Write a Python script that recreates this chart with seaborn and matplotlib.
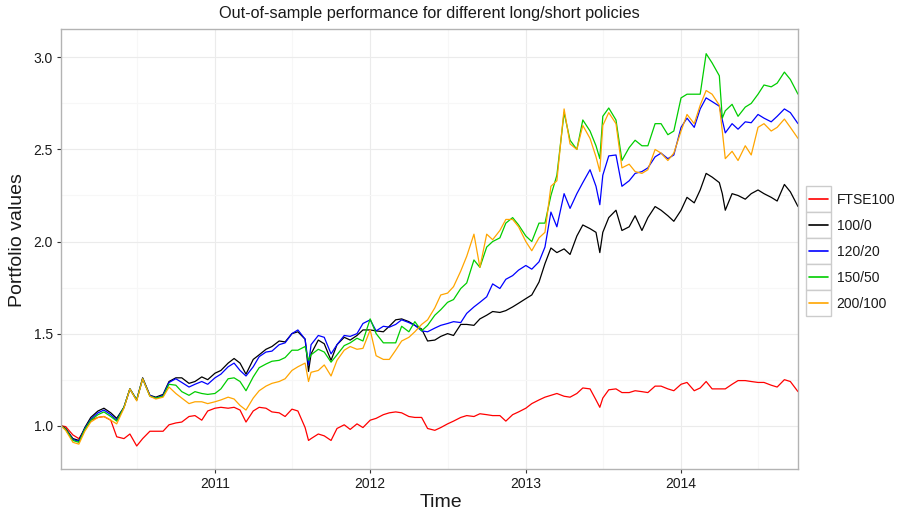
import pandas as pd
import matplotlib
matplotlib.use("Agg")
import matplotlib.pyplot as plt
import matplotlib.dates as mdates
from matplotlib.patches import Rectangle
from matplotlib.lines import Line2D
from matplotlib.legend_handler import HandlerBase
from matplotlib.ticker import FixedLocator, FormatStrFormatter
import seaborn as sns

# ---------------- data ----------------
dates = [
    "2010-01-04", "2010-01-15", "2010-02-01", "2010-02-15", "2010-03-01", "2010-03-15",
    "2010-04-01", "2010-04-15", "2010-05-01", "2010-05-15", "2010-06-01", "2010-06-15",
    "2010-07-01", "2010-07-15", "2010-08-01", "2010-08-15", "2010-09-01", "2010-09-15",
    "2010-10-01", "2010-10-15", "2010-11-01", "2010-11-15", "2010-12-01", "2010-12-15",
    "2011-01-01", "2011-01-15", "2011-02-01", "2011-02-15", "2011-03-01", "2011-03-15",
    "2011-04-01", "2011-04-15", "2011-05-01", "2011-05-15", "2011-06-01", "2011-06-15",
    "2011-07-01", "2011-07-15", "2011-08-01", "2011-08-09", "2011-08-15", "2011-09-01",
    "2011-09-15", "2011-10-01", "2011-10-15", "2011-11-01", "2011-11-15", "2011-12-01",
    "2011-12-15",
    "2012-01-01", "2012-01-15", "2012-02-01", "2012-02-15", "2012-03-01", "2012-03-15",
    "2012-04-01", "2012-04-15", "2012-05-01", "2012-05-15", "2012-06-01", "2012-06-15",
    "2012-07-01", "2012-07-15", "2012-08-01", "2012-08-15", "2012-09-01", "2012-09-15",
    "2012-10-01", "2012-10-15", "2012-11-01", "2012-11-15", "2012-12-01", "2012-12-15",
    "2013-01-01", "2013-01-15", "2013-02-01", "2013-02-15", "2013-03-01", "2013-03-15",
    "2013-04-01", "2013-04-15", "2013-05-01", "2013-05-15", "2013-06-01", "2013-06-15",
    "2013-06-24", "2013-07-01", "2013-07-15", "2013-08-01", "2013-08-15", "2013-09-01",
    "2013-09-15", "2013-10-01", "2013-10-15", "2013-11-01", "2013-11-15", "2013-12-01",
    "2013-12-15",
    "2014-01-01", "2014-01-15", "2014-02-01", "2014-02-15", "2014-03-01", "2014-03-15",
    "2014-04-01", "2014-04-08", "2014-04-15", "2014-05-01", "2014-05-15", "2014-06-01",
    "2014-06-15", "2014-07-01", "2014-07-15", "2014-08-01", "2014-08-15", "2014-09-01",
    "2014-09-15", "2014-10-03",
]

ftse100 = [
    1.00, 0.995, 0.95, 0.93, 0.98, 1.03, 1.045, 1.05, 1.03, 0.94, 0.93, 0.955,
    0.89, 0.93, 0.97, 0.97, 0.97, 1.005, 1.015, 1.02, 1.05, 1.055, 1.03, 1.08,
    1.095, 1.10, 1.095, 1.10, 1.085, 1.02, 1.08, 1.10, 1.095, 1.075, 1.07, 1.05,
    1.09, 1.08, 0.99, 0.92, 0.93, 0.955, 0.945, 0.92, 0.985, 1.005, 0.98, 1.01, 0.99,
    1.03, 1.04, 1.06, 1.07, 1.075, 1.07, 1.05, 1.045, 1.045, 0.985, 0.975, 0.99,
    1.01, 1.025, 1.045, 1.055, 1.05, 1.065, 1.06, 1.055, 1.055, 1.025, 1.06, 1.075,
    1.095, 1.12, 1.14, 1.155, 1.165, 1.175, 1.16, 1.155, 1.175, 1.205, 1.20, 1.14,
    1.10, 1.15, 1.195, 1.20, 1.18, 1.18, 1.19, 1.185, 1.18, 1.215, 1.215, 1.20, 1.19,
    1.225, 1.235, 1.19, 1.205, 1.24, 1.20, 1.20, 1.20, 1.20, 1.225, 1.245, 1.245,
    1.24, 1.235, 1.235, 1.22, 1.21, 1.25, 1.24, 1.185,
]

p100_0 = [
    1.00, 0.985, 0.93, 0.92, 0.99, 1.045, 1.08, 1.095, 1.07, 1.04, 1.10, 1.20,
    1.14, 1.26, 1.165, 1.155, 1.17, 1.24, 1.26, 1.26, 1.23, 1.24, 1.265, 1.25,
    1.285, 1.30, 1.34, 1.365, 1.34, 1.28, 1.36, 1.385, 1.415, 1.43, 1.46, 1.455,
    1.50, 1.51, 1.47, 1.295, 1.39, 1.465, 1.445, 1.355, 1.44, 1.48, 1.465, 1.49, 1.52,
    1.52, 1.515, 1.51, 1.54, 1.575, 1.58, 1.565, 1.545, 1.525, 1.46, 1.465, 1.485,
    1.50, 1.49, 1.55, 1.55, 1.545, 1.58, 1.60, 1.62, 1.615, 1.625, 1.645, 1.665,
    1.69, 1.71, 1.78, 1.88, 1.965, 1.94, 1.96, 1.93, 2.03, 2.09, 2.07, 2.05,
    1.94, 2.05, 2.13, 2.17, 2.06, 2.08, 2.14, 2.06, 2.13, 2.19, 2.17, 2.14, 2.11,
    2.17, 2.24, 2.21, 2.28, 2.37, 2.35, 2.32, 2.26, 2.17, 2.26, 2.25, 2.23,
    2.26, 2.28, 2.26, 2.24, 2.22, 2.31, 2.27, 2.19,
]

p120_20 = [
    1.00, 0.98, 0.925, 0.915, 0.985, 1.035, 1.07, 1.085, 1.06, 1.03, 1.10, 1.20,
    1.14, 1.255, 1.165, 1.15, 1.165, 1.235, 1.255, 1.235, 1.21, 1.225, 1.24, 1.225,
    1.26, 1.28, 1.32, 1.34, 1.30, 1.27, 1.32, 1.375, 1.40, 1.405, 1.44, 1.45,
    1.50, 1.52, 1.47, 1.33, 1.44, 1.49, 1.48, 1.39, 1.44, 1.49, 1.485, 1.50, 1.555,
    1.575, 1.515, 1.54, 1.535, 1.55, 1.575, 1.56, 1.545, 1.515, 1.51, 1.53, 1.545,
    1.555, 1.565, 1.56, 1.61, 1.645, 1.67, 1.70, 1.77, 1.745, 1.795, 1.815, 1.845,
    1.87, 1.85, 1.89, 1.97, 2.16, 2.08, 2.26, 2.18, 2.26, 2.32, 2.39, 2.30,
    2.20, 2.36, 2.465, 2.47, 2.30, 2.33, 2.37, 2.38, 2.40, 2.46, 2.48, 2.45, 2.47,
    2.62, 2.67, 2.62, 2.72, 2.78, 2.76, 2.735, 2.66, 2.59, 2.64, 2.61, 2.65,
    2.645, 2.69, 2.67, 2.65, 2.68, 2.72, 2.70, 2.64,
]

p150_50 = [
    1.00, 0.98, 0.92, 0.91, 0.98, 1.03, 1.06, 1.075, 1.05, 1.025, 1.10, 1.20,
    1.14, 1.255, 1.16, 1.15, 1.16, 1.225, 1.22, 1.185, 1.165, 1.185, 1.175, 1.17,
    1.175, 1.20, 1.255, 1.26, 1.24, 1.19, 1.265, 1.315, 1.335, 1.35, 1.355, 1.37,
    1.41, 1.41, 1.43, 1.355, 1.385, 1.415, 1.40, 1.345, 1.385, 1.435, 1.45, 1.475, 1.46,
    1.58, 1.50, 1.45, 1.45, 1.45, 1.54, 1.51, 1.565, 1.515, 1.545, 1.60, 1.63,
    1.67, 1.685, 1.745, 1.775, 1.90, 1.86, 1.97, 2.00, 2.02, 2.10, 2.13, 2.09,
    2.03, 2.00, 2.10, 2.10, 2.25, 2.36, 2.70, 2.55, 2.50, 2.66, 2.60, 2.52,
    2.45, 2.68, 2.725, 2.66, 2.44, 2.51, 2.55, 2.52, 2.52, 2.64, 2.64, 2.58, 2.60,
    2.78, 2.80, 2.80, 2.80, 3.02, 2.97, 2.90, 2.67, 2.71, 2.745, 2.68, 2.73,
    2.75, 2.80, 2.85, 2.84, 2.86, 2.92, 2.88, 2.80,
]

p200_100 = [
    1.00, 0.975, 0.91, 0.90, 0.97, 1.02, 1.045, 1.05, 1.03, 1.01, 1.095, 1.20,
    1.135, 1.255, 1.16, 1.145, 1.155, 1.21, 1.175, 1.15, 1.12, 1.13, 1.13, 1.12,
    1.13, 1.14, 1.155, 1.145, 1.11, 1.085, 1.15, 1.19, 1.215, 1.23, 1.24, 1.255,
    1.30, 1.32, 1.34, 1.24, 1.29, 1.30, 1.33, 1.27, 1.355, 1.41, 1.43, 1.415, 1.42,
    1.52, 1.38, 1.36, 1.36, 1.41, 1.46, 1.48, 1.51, 1.55, 1.575, 1.64, 1.71,
    1.72, 1.755, 1.84, 1.92, 2.04, 1.86, 2.04, 2.01, 2.06, 2.12, 2.12, 2.08,
    2.00, 1.95, 2.02, 2.05, 2.30, 2.33, 2.72, 2.53, 2.50, 2.63, 2.56, 2.46,
    2.38, 2.63, 2.70, 2.64, 2.40, 2.42, 2.38, 2.37, 2.39, 2.50, 2.48, 2.44, 2.48,
    2.60, 2.69, 2.64, 2.74, 2.82, 2.80, 2.74, 2.60, 2.45, 2.49, 2.44, 2.52,
    2.47, 2.62, 2.64, 2.60, 2.62, 2.665, 2.62, 2.56,
]

policies = ["FTSE100", "100/0", "120/20", "150/50", "200/100"]
colors = ["#FF0000", "#000000", "#0000FF", "#00CD00", "#FFA500"]
year_ticks = ["2011", "2012", "2013", "2014"]
minor_x = ["2010-07-01", "2011-07-01", "2012-07-01", "2013-07-01", "2014-07-01"]
y_ticks = [1.0, 1.5, 2.0, 2.5, 3.0]
y_minor = [0.75, 1.25, 1.75, 2.25, 2.75]

# ---------------- build long table ----------------
wide = pd.DataFrame({
    "Time": pd.to_datetime(dates),
    "FTSE100": ftse100,
    "100/0": p100_0,
    "120/20": p120_20,
    "150/50": p150_50,
    "200/100": p200_100,
})
df = wide.melt(id_vars="Time", var_name="policy", value_name="value")

# ---------------- style ----------------
sns.set_theme(style="white")
plt.rcParams["font.family"] = ["Liberation Sans", "DejaVu Sans"]

W, H = 899, 513
fig = plt.figure(figsize=(W / 100, H / 100), dpi=100)
L, R, T, B = 61, 798, 29, 469
ax = fig.add_axes([L / W, 1 - B / H, (R - L) / W, (B - T) / H])

sns.lineplot(data=df, x="Time", y="value", hue="policy", hue_order=policies,
             palette=dict(zip(policies, colors)), estimator=None, linewidth=0.9,
             ax=ax, legend=True)

ax.set_xlim(wide["Time"].iloc[0], wide["Time"].iloc[-1])
ax.set_ylim(0.765, 3.154)

ax.xaxis.set_major_locator(FixedLocator(mdates.date2num(pd.to_datetime([y + "-01-01" for y in year_ticks]))))
ax.xaxis.set_minor_locator(FixedLocator(mdates.date2num(pd.to_datetime(minor_x))))
ax.xaxis.set_major_formatter(mdates.DateFormatter("%Y"))
ax.yaxis.set_major_locator(FixedLocator(y_ticks))
ax.yaxis.set_minor_locator(FixedLocator(y_minor))
ax.yaxis.set_major_formatter(FormatStrFormatter("%.1f"))

ax.grid(which="major", color="#EBEBEB", linewidth=0.8)
ax.grid(which="minor", color="#F7F7F7", linewidth=0.8)
ax.set_axisbelow(True)

for s in ax.spines.values():
    s.set_color("#B3B3B3")
    s.set_linewidth(1.0)

ax.tick_params(which="major", direction="out", length=3, width=0.8, color="#333333",
               labelsize=10, labelcolor="#1A1A1A", pad=3, bottom=True, left=True)
ax.tick_params(which="minor", length=0)

ax.set_title("Out-of-sample performance for different long/short policies",
             fontsize=11.7, color="#1A1A1A", pad=8)
ax.set_xlabel("Time", fontsize=14, color="#1A1A1A", labelpad=1)
ax.xaxis.set_label_coords((441 - L) / (R - L), -0.056)
ax.set_ylabel("Portfolio values", fontsize=14, color="#1A1A1A", labelpad=6)
ax.yaxis.set_label_coords(-0.047, (B - 240) / (B - T))


# legend with boxed keys (ggplot-like): grey-bordered square with the line centred
class BoxedLine(HandlerBase):
    def create_artists(self, legend, orig_handle, xdescent, ydescent, width, height,
                       fontsize, trans):
        yc = 0.36 * fontsize
        box = Rectangle((-xdescent, yc - height / 2), width, height, facecolor="white",
                        edgecolor="#CCCCCC", linewidth=1.0, transform=trans)
        pad = 2.2
        ln = Line2D([-xdescent + pad, -xdescent + width - pad], [yc, yc],
                    color=orig_handle.get_color(), linewidth=1.2, transform=trans)
        return [box, ln]


handles = [Line2D([], [], color=c) for c in colors]
ax.legend(handles, policies, handler_map={Line2D: BoxedLine()},
          loc="center left", bbox_to_anchor=(1 + 8 / (R - L), 0.493), frameon=False,
          handlelength=1.8, handleheight=2.5, labelspacing=0.0, handletextpad=0.4,
          borderpad=0.0, borderaxespad=0.0, fontsize=10, labelcolor="#1A1A1A")

fig.savefig("out.png", dpi=100, facecolor="white")
